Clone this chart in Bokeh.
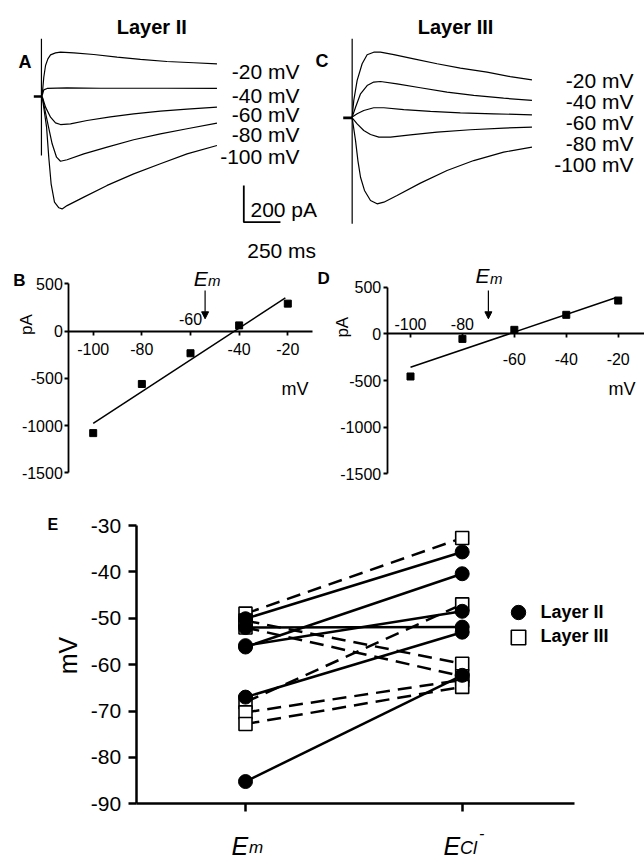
import numpy as np
from math import pi
from bokeh.plotting import figure
from bokeh.layouts import column, row
from bokeh.models import (Range1d, Label, LinearAxis, FixedTicker, Arrow, NormalHead,
                          Legend, LegendItem)
from bokeh.embed import file_html
from bokeh.resources import INLINE

FONT = "Liberation Sans"

# ---------------- data ----------------
step_labels = ["-20 mV", "-40 mV", "-60 mV", "-80 mV", "-100 mV"]

# Panel A (Layer II) whole-cell current traces: time (ms), current (pA)
a_m20_t = [0, 11, 23, 39, 57, 91, 125, 216, 352, 511, 670, 851, 1033, 1192]
a_m20_i = [5, 105, 169, 205, 227, 238, 242, 238, 229, 215, 202, 191, 184, 178]
a_m40_t = [0, 11, 34, 170, 397, 624, 851, 1192]
a_m40_i = [5, 36, 44, 47, 45, 45, 45, 44]
a_m60_t = [0, 23, 57, 91, 125, 193, 306, 465, 624, 806, 988, 1192]
a_m60_i = [0, -58, -113, -144, -153, -149, -131, -111, -95, -80, -69, -58]
a_m80_t = [0, 34, 68, 98, 125, 170, 284, 443, 624, 806, 988, 1192]
a_m80_i = [0, -131, -258, -331, -353, -345, -313, -276, -236, -204, -176, -145]
a_m100_t = [0, 30, 45, 61, 84, 114, 136, 170, 284, 443, 624, 806, 988, 1192]
a_m100_i = [0, -167, -331, -476, -576, -607, -613, -595, -549, -485, -422, -367, -313, -267]
a_hold_t = [-57, 0]
a_hold_i = [0, 0]
a_art_t = [-5, -5]
a_art_i = [315, -322]

# Panel C (Layer III) traces
c_m20_t = [0, 11, 34, 68, 102, 147, 193, 284, 420, 579, 738, 920, 1078, 1226]
c_m20_i = [4, 95, 204, 295, 344, 358, 358, 345, 322, 295, 271, 249, 225, 207]
c_m40_t = [0, 23, 57, 102, 147, 193, 306, 465, 647, 829, 1033, 1226]
c_m40_i = [4, 58, 131, 176, 195, 198, 185, 164, 140, 122, 107, 95]
c_m60_t = [0, 34, 79, 147, 216, 352, 534, 738, 965, 1226]
c_m60_i = [4, 22, 40, 55, 55, 45, 35, 27, 22, 16]
c_m80_t = [0, 34, 79, 125, 182, 261, 397, 579, 806, 1033, 1226]
c_m80_i = [0, -33, -69, -91, -105, -105, -93, -78, -65, -56, -51]
c_m100_t = [0, 23, 39, 57, 84, 125, 170, 216, 306, 465, 647, 829, 1033, 1226]
c_m100_i = [0, -124, -233, -324, -396, -451, -469, -460, -424, -356, -287, -233, -187, -160]
c_hold_t = [-61, 0]
c_hold_i = [0, 0]
c_art_t = [0, 0]
c_art_i = [431, -578]

scale_pA = 200
scale_ms = 250

# Panels B, D: I-V relations
iv_mv = [-100, -80, -60, -40, -20]
b_pA = [-1080, -560, -235, 60, 290]
d_pA = [-457, -54, 43, 204, 357]
em_b = -54
em_d = -70
fit_span = [-100, -21]
iv_x_ticks = [-100, -80, -60, -40, -20]
iv_x_labels = ["-100", "-80", "-60", "-40", "-20"]
iv_y_ticks = [-1500, -1000, -500, 0, 500]
iv_y_labels = ["-1500", "-1000", "-500", "0", "500"]

# Panel E: Em and ECl- per cell
l2_em = [-50.1, -56.2, -55.9, -52.0, -67.0, -85.2]
l2_ecl = [-35.7, -40.4, -48.5, -51.9, -53.0, -62.3]
l3_em = [-49.0, -50.5, -52.0, -68.1, -70.3, -72.8]
l3_ecl = [-32.7, -59.8, -62.5, -47.0, -63.3, -64.8]
e_y_ticks = [-90, -80, -70, -60, -50, -40, -30]
e_y_labels = ["-90", "-80", "-70", "-60", "-50", "-40", "-30"]


# ---------------- helpers ----------------
def span(lo_px, hi_px, a_px, a_val, b_px, b_val):
    """data values at two pixel positions given two anchor (pixel, value) pairs"""
    k = (b_val - a_val) / (b_px - a_px)
    return a_val + (lo_px - a_px) * k, a_val + (hi_px - a_px) * k


def make_fig(box, xanch, yanch):
    bx0, by0, bx1, by1 = box
    xr = span(bx0, bx1, *xanch)
    yr = span(by1, by0, *yanch)
    p = figure(width=bx1 - bx0, height=by1 - by0,
               x_range=Range1d(*xr), y_range=Range1d(*yr),
               output_backend="svg", toolbar_location=None,
               x_axis_location=None, y_axis_location=None,
               min_border_left=0, min_border_right=0,
               min_border_top=0, min_border_bottom=0)
    p.outline_line_color = None
    p.background_fill_color = "white"
    p.border_fill_color = "white"
    p.xgrid.visible = False
    p.ygrid.visible = False

    def m(px, py):
        return span(px, px, *xanch)[0], span(py, py, *yanch)[0]
    return p, m


def lab(p, m, px, py, text, size, style="normal", align="left",
        baseline="alphabetic", angle=0.0):
    x, y = m(px, py)
    p.add_layout(Label(x=x, y=y, text=text, text_font=FONT,
                       text_font_size=f"{size}px", text_font_style=style,
                       text_align=align, text_baseline=baseline, angle=angle,
                       text_color="black"))


def style_axis(ax, size, lw, tick_out, standoff):
    ax.axis_line_width = lw
    ax.axis_line_color = "black"
    ax.major_tick_line_width = lw
    ax.major_tick_line_color = "black"
    ax.major_tick_out = tick_out
    ax.major_tick_in = 0
    ax.minor_tick_line_color = None
    ax.major_label_text_font = FONT
    ax.major_label_text_font_size = f"{size}px"
    ax.major_label_text_color = "black"
    ax.major_label_standoff = standoff


# ---------------- Panel A ----------------
pA, mA = make_fig((0, 0, 332, 230), (41.67, 0, 78.33, 250), (96, 0, 132.67, -200))
pA.multi_line(xs=[a_m20_t, a_m40_t, a_m60_t, a_m80_t, a_m100_t],
              ys=[a_m20_i, a_m40_i, a_m60_i, a_m80_i, a_m100_i],
              line_color="black", line_width=1.2)
pA.line(a_hold_t, a_hold_i, line_color="black", line_width=2.5)
pA.line(a_art_t, a_art_i, line_color="black", line_width=1.2)
sb_t, sb_i = mA(243.3, 221.7)
pA.line([sb_t, sb_t, sb_t + scale_ms], [sb_i + scale_pA, sb_i, sb_i],
        line_color="black", line_width=1.8)
lab(pA, mA, 151.3, 26.7, "Layer II", 20, "bold", "center")
lab(pA, mA, 18, 61, "A", 18, "bold")
lab(pA, mA, 315, 60, "C", 18, "bold")
for txt, by in zip(step_labels, [71, 95, 114.3, 134.3, 156]):
    lab(pA, mA, 299, by, txt, 21, align="right")
lab(pA, mA, 250, 209.3, f"{scale_pA} pA", 21)

# ---------------- Panel C ----------------
pC, mC = make_fig((332, 0, 644, 230), (351.67, 0, 388.33, 250), (117.33, 0, 154, -200))
pC.multi_line(xs=[c_m20_t, c_m40_t, c_m60_t, c_m80_t, c_m100_t],
              ys=[c_m20_i, c_m40_i, c_m60_i, c_m80_i, c_m100_i],
              line_color="black", line_width=1.2)
pC.line(c_hold_t, c_hold_i, line_color="black", line_width=2.7)
pC.line(c_art_t, c_art_i, line_color="black", line_width=1.2)
lab(pC, mC, 455, 26.7, "Layer III", 20, "bold", "center")
for txt, by in zip(step_labels, [80, 101, 121.7, 142.7, 164.3]):
    lab(pC, mC, 633, by, txt, 21, align="right")


# ---------------- Panels B and D ----------------
def iv_panel(box, xanch, yanch, axis_px, right_px, vals, em, above_ticks,
             below_std, above_std, letter, em_pos, m_pos, pa_pos, mv_pos, arrow_py):
    p, m = make_fig(box, xanch, yanch)
    x_left = m(axis_px, 0)[0]
    x_right = m(right_px, 0)[0]
    yax = LinearAxis(fixed_location=x_left, bounds=(iv_y_ticks[0], iv_y_ticks[-1]),
                     ticker=FixedTicker(ticks=iv_y_ticks),
                     major_label_overrides={t: s for t, s in zip(iv_y_ticks, iv_y_labels)})
    style_axis(yax, 16, 1.8, 4, 2)
    p.add_layout(yax, "left")
    below = LinearAxis(fixed_location=0, bounds=(x_left, x_right),
                       ticker=FixedTicker(ticks=iv_x_ticks),
                       major_label_overrides={t: ("" if t in above_ticks else s)
                                              for t, s in zip(iv_x_ticks, iv_x_labels)})
    style_axis(below, 16, 1.8, 4, below_std)
    p.add_layout(below, "below")
    above = LinearAxis(fixed_location=0, ticker=FixedTicker(ticks=above_ticks),
                       major_label_overrides={t: s for t, s in zip(iv_x_ticks, iv_x_labels)
                                              if t in above_ticks})
    style_axis(above, 16, 1.8, 0, above_std)
    above.axis_line_color = None
    above.major_tick_line_color = None
    p.add_layout(above, "above")
    # least-squares line through the points, and the points
    k, b0 = np.polyfit(iv_mv, vals, 1)
    fx = np.array(fit_span, dtype=float)
    p.line(fx, k * fx + b0, line_color="black", line_width=1.5)
    p.scatter(iv_mv, vals, marker="square", size=7, color="black")
    # Em arrow
    ys = m(0, arrow_py[0])[1]
    ye = m(0, arrow_py[1])[1]
    p.add_layout(Arrow(end=NormalHead(size=7, fill_color="black", line_color="black",
                                      line_width=1),
                       x_start=em, y_start=ys, x_end=em, y_end=ye,
                       line_color="black", line_width=1.2))
    lab(p, m, em_pos[0], em_pos[1], "E", 21, "italic")
    lab(p, m, m_pos[0], m_pos[1], "m", 15, "italic")
    lab(p, m, letter[1], letter[2], letter[0], 17, "bold")
    lab(p, m, pa_pos[0], pa_pos[1], "pA", 17, align="center", baseline="middle",
        angle=pi / 2)
    lab(p, m, mv_pos[0], mv_pos[1], "mV", 18, align="right")
    return p, m


pB, mB = iv_panel((0, 230, 316, 490), (92.7, -100, 287.3, -20), (283.3, 500, 472.3, -1500),
                  68.3, 312, b_pA, em_b, [-60], 8, 6, ("B", 12.7, 280),
                  (193.3, 278.3), (207.5, 280), (25.7, 324), (308, 388.3), (290, 318.3))
pD, mD = iv_panel((316, 230, 644, 490), (410, -100, 617.7, -20), (286.7, 500, 473.3, -1500),
                  386.7, 644, d_pA, em_d, [-100, -80], 15, 4, ("D", 317, 278.3),
                  (475, 275), (489.5, 278.3), (341.7, 326.7), (635, 388.3), (290, 318.3))
# time-scale label of the scale bar in panel A (drawn in the strip below it)
lab(pB, mB, 246.7, 250, f"{scale_ms} ms", 21)

# ---------------- Panel E ----------------
pE, mE = make_fig((0, 490, 644, 858), (245, 0, 461.7, 1), (525, -30, 803.3, -90))
x_l, x_r = mE(135.7, 0)[0], mE(573.7, 0)[0]
eyax = LinearAxis(fixed_location=x_l, bounds=(e_y_ticks[0], e_y_ticks[-1]),
                  ticker=FixedTicker(ticks=e_y_ticks),
                  major_label_overrides={t: s for t, s in zip(e_y_ticks, e_y_labels)})
style_axis(eyax, 21, 2.5, 8, 7)
pE.add_layout(eyax, "left")
exax = LinearAxis(fixed_location=e_y_ticks[0], bounds=(x_l, x_r),
                  ticker=FixedTicker(ticks=[0, 1]),
                  major_label_overrides={0: "", 1: ""})
style_axis(exax, 12, 2.5, 8, 2)
pE.add_layout(exax, "below")

pE.multi_line(xs=[[0, 1] for _ in l3_em], ys=[[a, b] for a, b in zip(l3_em, l3_ecl)],
              line_color="black", line_width=2.5, line_dash="14 8")
pE.multi_line(xs=[[0, 1] for _ in l2_em], ys=[[a, b] for a, b in zip(l2_em, l2_ecl)],
              line_color="black", line_width=2.5)
r3 = pE.scatter([0] * len(l3_em) + [1] * len(l3_ecl), l3_em + l3_ecl, marker="square",
                size=13, fill_color="white", line_color="black", line_width=1.6)
r2 = pE.scatter([0] * len(l2_em) + [1] * len(l2_ecl), l2_em + l2_ecl, marker="circle",
                size=14, fill_color="black", line_color="black")

for name, rend, vy in [("Layer II", r2, 228), ("Layer III", r3, 203.5)]:
    lg = Legend(items=[LegendItem(label=name, renderers=[rend])],
                location=(499.5, vy), orientation="vertical",
                glyph_width=36, glyph_height=36, spacing=0, padding=0, margin=0,
                label_standoff=5, label_text_font=FONT, label_text_font_size="18px",
                label_text_font_style="bold", label_text_color="black",
                border_line_color=None, background_fill_alpha=0)
    pE.add_layout(lg)

lab(pE, mE, 47, 524, "E", 16, "bold")
lab(pE, mE, 67, 655, "mV", 25, align="center", baseline="middle", angle=pi / 2)
lab(pE, mE, 231, 845, "E", 25, "italic")
lab(pE, mE, 248.5, 847, "m", 17, "italic")
lab(pE, mE, 443, 845, "E", 25, "italic")
lab(pE, mE, 459.5, 847, "Cl", 18, "italic")
lab(pE, mE, 478.5, 832, "-", 16, "italic")

layout = column(row(pA, pC), row(pB, pD), pE)
open("out.html", "w").write(file_html(layout, INLINE))
